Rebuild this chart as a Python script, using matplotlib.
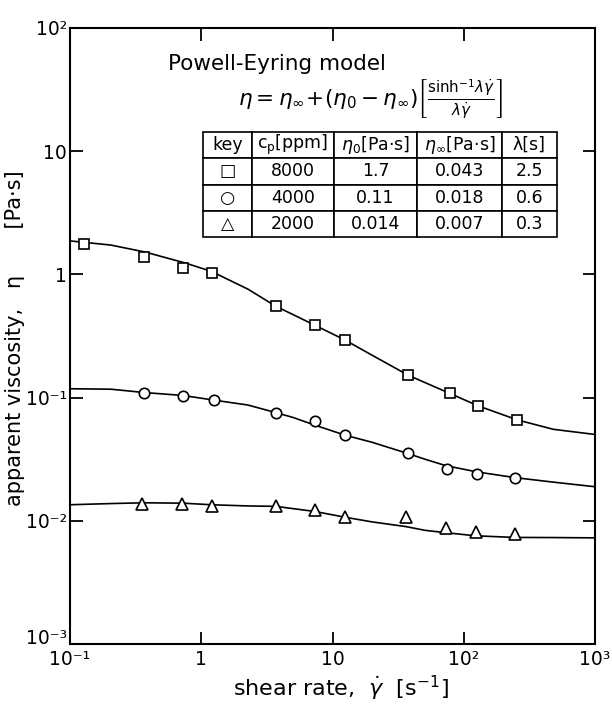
import matplotlib
matplotlib.use('Agg')
import matplotlib.pyplot as plt
from matplotlib.ticker import FixedLocator, FixedFormatter, NullLocator

plt.rcParams['font.family'] = ['DejaVu Sans']
plt.rcParams['mathtext.fontset'] = 'dejavusans'

# ---- measured data (open markers) ----
sq_x = [0.128, 0.366, 0.726, 1.21, 3.69, 7.36, 12.4, 37.7, 78.5, 129, 256]
sq_y = [1.78, 1.39, 1.13, 1.03, 0.552, 0.386, 0.294, 0.152, 0.108, 0.0856, 0.0659]

ci_x = [0.366, 0.726, 1.24, 3.69, 7.36, 12.5, 37.4, 74.1, 127, 247]
ci_y = [0.110, 0.104, 0.0955, 0.0756, 0.064, 0.0495, 0.0352, 0.0263, 0.024, 0.0221]

tr_x = [0.353, 0.718, 1.21, 3.69, 7.36, 12.4, 36.3, 73.3, 124, 245]
tr_y = [0.0136, 0.0138, 0.0133, 0.0131, 0.0122, 0.0108, 0.0107, 0.0088, 0.00814, 0.00787]

# ---- fitted curves ----
sq_fit_x = [0.1, 0.205, 0.372, 0.75, 1.19, 2.27, 3.69, 5.0, 7.36, 12.4, 20, 37.7, 78.5, 129, 256, 481, 1000]
sq_fit_y = [1.87, 1.73, 1.52, 1.24, 1.06, 0.759, 0.552, 0.472, 0.386, 0.294, 0.221, 0.152, 0.108, 0.0856, 0.0659, 0.0553, 0.0502]

ci_fit_x = [0.1, 0.205, 0.366, 0.73, 1.24, 2.27, 3.69, 5.0, 7.36, 12.5, 20, 37.4, 50.7, 73.3, 127, 247, 481, 1000]
ci_fit_y = [0.118, 0.117, 0.110, 0.104, 0.0955, 0.087, 0.0756, 0.069, 0.0597, 0.0495, 0.0434, 0.0352, 0.0316, 0.028, 0.0249, 0.0224, 0.0206, 0.0189]

tr_fit_x = [0.1, 0.205, 0.366, 0.73, 1.19, 2.27, 3.69, 7.36, 12.4, 20, 36.3, 50.7, 73.3, 124, 245, 481, 1000]
tr_fit_y = [0.0135, 0.0138, 0.0140, 0.0139, 0.0135, 0.0132, 0.0131, 0.0119, 0.0107, 0.0098, 0.00897, 0.00837, 0.0080, 0.00755, 0.00733, 0.00731, 0.00727]

# ---- ticks ----
x_ticks = [0.1, 1, 10, 100, 1000]
x_tick_labels = ['10⁻¹', '1', '10', '10²', '10³']
y_ticks = [1e-3, 1e-2, 1e-1, 1, 10, 100]
y_tick_labels = ['10⁻³', '10⁻²', '10⁻¹', '1', '10', '10²']

# ---- table ----
table_header = ['key', r'c$_\mathrm{p}$[ppm]', r'$\eta_0$[Pa·s]', r'$\eta_\infty$[Pa·s]', 'λ[s]']
table_keys = ['□', '○', '△']
table_cp = ['8000', '4000', '2000']
table_eta0 = ['1.7', '0.11', '0.014']
table_etainf = ['0.043', '0.018', '0.007']
table_lambda = ['2.5', '0.6', '0.3']

W, H = 612, 704
fig = plt.figure(figsize=(W / 100, H / 100), dpi=100)
ax = fig.add_axes([70 / W, 1 - 644 / H, 525 / W, 616 / H])
ax.set_xscale('log')
ax.set_yscale('log')

lw = 1.2
for fx, fy in [(sq_fit_x, sq_fit_y), (ci_fit_x, ci_fit_y), (tr_fit_x, tr_fit_y)]:
    ax.plot(fx, fy, color='black', lw=lw, zorder=2)

mk = dict(ls='none', mfc='white', mec='black', mew=1.2, zorder=3)
ax.plot(sq_x, sq_y, marker='s', ms=6.5, **mk)
ax.plot(ci_x, ci_y, marker='o', ms=7.5, **mk)
ax.plot(tr_x, tr_y, marker='^', ms=8, **mk)

ax.set_xlim(0.1, 1000)
ax.set_ylim(1e-3, 1e2)
ax.xaxis.set_major_locator(FixedLocator(x_ticks))
ax.xaxis.set_major_formatter(FixedFormatter(x_tick_labels))
ax.yaxis.set_major_locator(FixedLocator(y_ticks))
ax.yaxis.set_major_formatter(FixedFormatter(y_tick_labels))
ax.xaxis.set_minor_locator(NullLocator())
ax.yaxis.set_minor_locator(NullLocator())
ax.tick_params(which='major', direction='in', length=9, width=1.3,
               top=True, right=True, labelsize=13.5, pad=2)
ax.tick_params(axis='x', pad=4)
for s in ax.spines.values():
    s.set_linewidth(1.5)

fig.canvas.draw()
ax.get_yticklabels()[0].set_va('baseline')

# axis labels
fig.text(15 / W, 1 - 338 / H, 'apparent viscosity,   η       [Pa·s]', rotation=90,
         ha='center', va='center', fontsize=15)
fig.text(341 / W, 1 - 688 / H, r'shear rate,  $\dot{\gamma}$  [s$^{-1}$]',
         ha='center', va='center', fontsize=16)

# model annotation
fig.text(168 / W, 1 - 64 / H, 'Powell-Eyring model', ha='left', va='center', fontsize=15.5)
fig.text(370 / W, 1 - 99 / H,
         r'$\eta = \eta_{\infty}\!+\!(\eta_0 - \eta_{\infty})\left[\frac{\mathrm{sinh}^{-1}\lambda\dot{\gamma}}{\lambda\dot{\gamma}}\right]$',
         ha='center', va='center', fontsize=15.5)

cell_text = [table_header] + [[k, c, e0, ei, l] for k, c, e0, ei, l in
                              zip(table_keys, table_cp, table_eta0, table_etainf, table_lambda)]
col_w = [49, 82, 83, 85, 55]
tot = sum(col_w)
tbl = ax.table(cellText=cell_text, cellLoc='center',
               colWidths=[c / tot for c in col_w],
               bbox=[(203 - 70) / 525, 1 - (237 - 28) / 616, 354 / 525, 105 / 616])
tbl.auto_set_font_size(False)
tbl.set_fontsize(12.5)
for (r, c), cell in tbl.get_celld().items():
    cell.set_edgecolor('black')
    cell.set_linewidth(1.2)
    cell.set_facecolor('white')

fig.savefig('out.png', dpi=100)
